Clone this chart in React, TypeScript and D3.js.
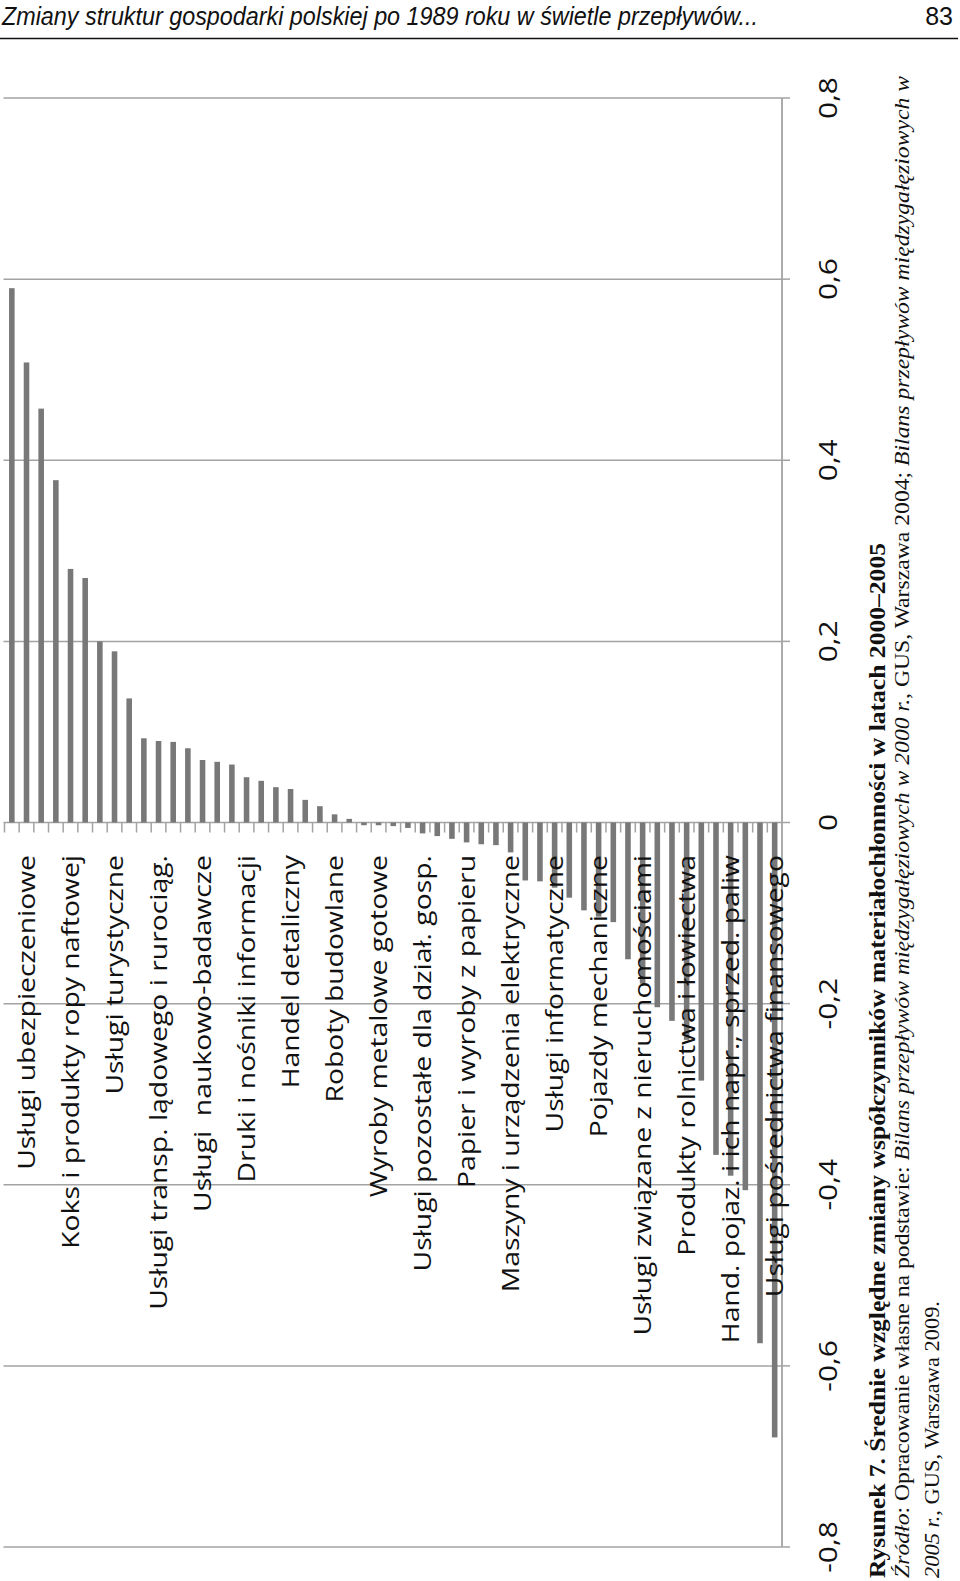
import React from "react";
import * as d3 from "d3";

const categories: string[] = [
  "", "Usługi ubezpieczeniowe", "", "", "Koks i produkty ropy naftowej", "", "", "Usługi turystyczne", "",
  "", "Usługi transp. lądowego i rurociąg.", "", "", "Usługi  naukowo-badawcze", "", "", "Druki i nośniki informacji", "",
  "", "Handel detaliczny", "", "", "Roboty budowlane", "", "", "Wyroby metalowe gotowe", "",
  "", "Usługi pozostałe dla dział. gosp.", "", "", "Papier i wyroby z papieru", "", "", "Maszyny i urządzenia elektryczne", "",
  "", "Usługi informatyczne", "", "", "Pojazdy mechaniczne", "", "", "Usługi związane z nieruchomościami", "",
  "", "Produkty rolnictwa i łowiectwa", "", "", "Hand. pojaz. i ich napr., sprzed. paliw", "", "", "Usługi pośrednictwa finansowego",
];

const values: number[] = [
  0.59, 0.508, 0.457, 0.378, 0.28, 0.27, 0.2, 0.189, 0.137,
  0.093, 0.09, 0.089, 0.082, 0.069, 0.067, 0.064, 0.05, 0.046,
  0.039, 0.037, 0.025, 0.018, 0.009, 0.004, -0.003, -0.003, -0.004,
  -0.006, -0.012, -0.015, -0.018, -0.022, -0.024, -0.025, -0.033, -0.064,
  -0.065, -0.072, -0.083, -0.097, -0.104, -0.11, -0.151, -0.178, -0.204,
  -0.219, -0.24, -0.285, -0.367, -0.39, -0.406, -0.575, -0.679,
];

const valueTicks: number[] = [-0.8, -0.6, -0.4, -0.2, 0, 0.2, 0.4, 0.6, 0.8];

const headerTitle = "Zmiany struktur gospodarki polskiej po 1989 roku w świetle przepływów...";
const pageNumber = "83";
const captionTitle = "Rysunek 7. Średnie względne zmiany współczynników materiałochłonności w latach 2000–2005";
const sourceLine1: [string, boolean][] = [
  ["Źródło", true],
  [": Opracowanie własne na podstawie: ", false],
  ["Bilans przepływów międzygałęziowych w 2000 r.", true],
  [", GUS, Warszawa 2004; ", false],
  ["Bilans przepływów międzygałęziowych w", true],
];
const sourceLine2: [string, boolean][] = [
  ["2005 r.", true],
  [", GUS, Warszawa 2009.", false],
];

const W = 960;
const H = 1581;
const LABEL_FONT = "'Open Sans', 'DejaVu Sans', sans-serif";
const GRID = "#a3a3a3";
const BAR = "#787878";

const fmt = (v: number) => (v === 0 ? "0" : v.toFixed(1).replace(".", ","));

export default function App() {
  const idx = values.map((_, i) => i);
  const x = d3
    .scaleBand<number>()
    .domain(idx)
    .range([4.5, 782])
    .paddingInner(0.62)
    .paddingOuter(0.31);
  const y = d3.scaleLinear().domain([-0.8, 0.8]).range([1547, 98]);
  const step = x.step();
  const x0 = 4.5;
  const axisX = 782;
  const zeroY = y(0);

  const catStretch = 1.18;
  const valStretch = 1.15;

  return (
    <svg
      width={W}
      height={H}
      viewBox={`0 0 ${W} ${H}`}
      style={{ position: "absolute", left: 0, top: 0, background: "#fff" }}
    >
      <rect x={0} y={0} width={W} height={H} fill="#fff" />
      {/* header */}
      <text
        x={2}
        y={25}
        fontFamily="'Liberation Sans Narrow', 'Liberation Sans', sans-serif"
        fontStyle="italic"
        fontSize={25}
        fill="#111"
        textLength={756}
        lengthAdjust="spacingAndGlyphs"
      >
        {headerTitle}
      </text>
      <text
        x={953}
        y={25}
        textAnchor="end"
        fontFamily="'Liberation Sans Narrow', 'Liberation Sans', sans-serif"
        fontSize={25}
        fill="#111"
      >
        {pageNumber}
      </text>
      <line x1={0} x2={958} y1={38.5} y2={38.5} stroke="#111" strokeWidth={1.6} />

      {/* gridlines */}
      {valueTicks.map((t) => (
        <line
          key={"g" + t}
          x1={x0 - 1}
          x2={axisX}
          y1={y(t)}
          y2={y(t)}
          stroke={GRID}
          strokeWidth={1.5}
        />
      ))}
      {/* value axis line + ticks */}
      <line x1={axisX} x2={axisX} y1={y(0.8)} y2={y(-0.8)} stroke={GRID} strokeWidth={1.8} />
      {valueTicks.map((t) => (
        <line
          key={"t" + t}
          x1={axisX}
          x2={axisX + 8}
          y1={y(t)}
          y2={y(t)}
          stroke={GRID}
          strokeWidth={1.5}
        />
      ))}
      {/* category ticks */}
      {d3.range(values.length).map((i) => (
        <line
          key={"c" + i}
          x1={x0 + step * i}
          x2={x0 + step * i}
          y1={zeroY}
          y2={zeroY + 10}
          stroke={GRID}
          strokeWidth={1.5}
        />
      ))}
      {/* bars */}
      {values.map((v, i) => (
        <rect
          key={"b" + i}
          x={x(i)!}
          width={x.bandwidth()}
          y={Math.min(y(v), zeroY)}
          height={Math.abs(y(v) - zeroY)}
          fill={BAR}
        />
      ))}
      {/* category labels */}
      {categories.map((c, i) =>
        c ? (
          <text
            key={"l" + i}
            transform={`translate(${x(i)! + x.bandwidth() / 2 - 1},855) scale(1,${catStretch}) rotate(-90)`}
            textAnchor="end"
            dominantBaseline="central"
            fontFamily={LABEL_FONT}
            fontSize={24}
            fill="#111"
            style={{ whiteSpace: "pre" }}
          >
            {c}
          </text>
        ) : null
      )}
      {/* value labels */}
      {valueTicks.map((t) => (
        <text
          key={"v" + t}
          transform={`translate(827,${y(t)}) scale(1,${valStretch}) rotate(-90)`}
          textAnchor="middle"
          dominantBaseline="central"
          fontFamily={LABEL_FONT}
          fontSize={26}
          fill="#111"
        >
          {fmt(t)}
        </text>
      ))}
      {/* caption */}
      <text
        transform="translate(885,1578) rotate(-90)"
        fontFamily="'Liberation Serif', 'Times New Roman', serif"
        fontWeight="bold"
        fontSize={24}
        fill="#111"
        textLength={1035}
        lengthAdjust="spacingAndGlyphs"
      >
        {captionTitle}
      </text>
      <text
        transform="translate(909,1578) rotate(-90)"
        fontFamily="'Liberation Serif', 'Times New Roman', serif"
        fontSize={21}
        fill="#111"
        textLength={1502}
        lengthAdjust="spacingAndGlyphs"
      >
        {sourceLine1.map(([s, it], k) => (
          <tspan key={k} fontStyle={it ? "italic" : "normal"}>
            {s}
          </tspan>
        ))}
      </text>
      <text
        transform="translate(939,1578) rotate(-90)"
        fontFamily="'Liberation Serif', 'Times New Roman', serif"
        fontSize={21}
        fill="#111"
        textLength={277}
        lengthAdjust="spacingAndGlyphs"
      >
        {sourceLine2.map(([s, it], k) => (
          <tspan key={k} fontStyle={it ? "italic" : "normal"}>
            {s}
          </tspan>
        ))}
      </text>
    </svg>
  );
}
